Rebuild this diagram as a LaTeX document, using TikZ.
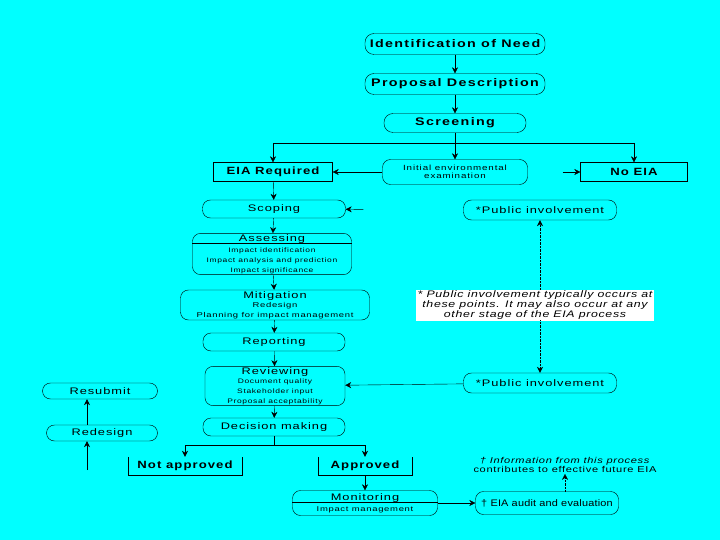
\documentclass[tikz,border=0pt]{standalone}
\usepackage{fontspec}
\setmainfont{Liberation Sans}
\usetikzlibrary{arrows.meta, positioning, calc}
\definecolor{eiabg}{RGB}{0,255,255}
\newfontfamily\widefont[FakeStretch=1.35, LetterSpace=10]{Liberation Sans}
\newfontfamily\titlefont[FakeStretch=1.3, LetterSpace=12]{Liberation Sans}
\newfontfamily\boxfont[FakeStretch=1.25, LetterSpace=10]{Liberation Sans}
\newfontfamily\ieefont[FakeStretch=1.3, LetterSpace=12]{Liberation Sans}
\newfontfamily\smallwide[FakeStretch=1.3, LetterSpace=10]{Liberation Sans}
\newfontfamily\subwide[FakeStretch=1.35, LetterSpace=10]{Liberation Sans}
\newfontfamily\notewide[FakeStretch=1.3, LetterSpace=7]{Liberation Sans}
\newfontfamily\infowide[FakeStretch=1.3, LetterSpace=8]{Liberation Sans}
\newfontfamily\auditwide[FakeStretch=1.15, LetterSpace=2]{Liberation Sans}
\newcommand\detailfont{\smallwide\fontsize{6.5}{7}\selectfont}
\newcommand\subfont{\subwide\fontsize{7}{7.5}\selectfont}
\tikzset{
  arr/.style={-{Stealth[length=6pt,width=6pt]}, thin},
  dotarr/.style={-{Stealth[length=6pt,width=6pt]}, densely dotted, thin},
  stage/.style={draw, thin, rounded corners=8pt, align=center, inner sep=1pt,
    font=\widefont\fontsize{9.5}{10}\selectfont},
  toptitle/.style={font=\titlefont\fontsize{11}{12}\selectfont\bfseries, rounded corners=9pt},
  boldbox/.style={draw, thin, align=center, inner sep=1pt,
    font=\boxfont\fontsize{10.5}{11}\selectfont\bfseries},
  openbox/.style={align=center, inner sep=1pt,
    font=\boxfont\fontsize{10.5}{11}\selectfont\bfseries},
  wd/.style={minimum width=#1},ht/.style={minimum height=#1},
}
\begin{document}
\begin{tikzpicture}[x=1pt,y=-1pt]
\fill[eiabg] (0,0) rectangle (720,540);
\useasboundingbox (0,0) rectangle (720,540);

% main line of stages
\node[stage, toptitle, wd=180, ht=21] (need) at (455,44) {Identification of Need};
\node[stage, toptitle, wd=180, ht=21] (prop) at (455,84) {Proposal Description};
\node[stage, toptitle, wd=142, ht=19] (screen) at (455,123) {Screening};

\node[boldbox, wd=119, ht=19] (eiareq) at (273,172) {EIA Required};
\node[stage, wd=145, ht=25, font=\ieefont\fontsize{7.5}{8}\selectfont] (iee) at (455,172) {Initial environmental\\examination};
\node[boldbox, wd=107, ht=19] (noeia) at (634,172) {No EIA};

\node[stage, wd=143, ht=18] (scope) at (274,209) {Scoping};
\node[stage, wd=153, ht=20] (pub1) at (540,210) {*Public involvement};

\node[stage, wd=159, ht=37] (assess) at (272,254) {Assessing\\[1pt]
  {\detailfont Impact identification}\\
  {\detailfont Impact analysis and prediction}\\
  {\detailfont Impact significance}};
\draw[thin] ([yshift=-10pt]assess.north west) -- ([yshift=-10pt]assess.north east);

\node[stage, wd=189, ht=30] (mitig) at (275,305) {Mitigation\\[-1pt]
  {\subfont Redesign}\\
  {\subfont Planning for impact management}};
\node[stage, wd=142, ht=18] (report) at (274,342) {Reporting};

\node[draw=white, fill=white, inner sep=1pt, minimum width=234, minimum height=26, align=center,
  font=\notewide\fontsize{9.5}{8.5}\selectfont\itshape] (note) at (535,305)
  {* Public involvement typically occurs at\\these points. It may also occur at any\\other stage of the EIA process};

\node[stage, wd=140, ht=36] (review) at (275,386) {Reviewing\\[-1pt]
  {\detailfont Document quality}\\
  {\detailfont Stakeholder input}\\
  {\detailfont Proposal acceptability}};
\node[stage, wd=153, ht=20] (pub2) at (540,383) {*Public involvement};

\node[stage, wd=142, ht=18] (decide) at (274,427) {Decision making};

\node[openbox, wd=114, ht=18] (notapp) at (185,466) {Not approved};
\draw[thin] (notapp.north west) -- (notapp.south west) -- (notapp.south east) -- (notapp.north east);
\node[openbox, wd=94, ht=18] (approved) at (365,466) {Approved};
\draw[thin] (approved.north west) -- (approved.south west) -- (approved.south east) -- (approved.north east);

\node[stage, wd=145, ht=25] (monit) at (365,503) {Monitoring\\[1pt]
  {\subfont Impact management}};
\draw[thin] ([yshift=-12pt]monit.north west) -- ([yshift=-12pt]monit.north east);
\node[stage, wd=143, ht=23, font=\auditwide\fontsize{9.5}{10}\selectfont] (audit) at (547,503) {\textdagger\ EIA audit and evaluation};
\node[align=center, inner sep=1pt, font=\infowide\fontsize{8.5}{9}\selectfont] (info) at (565,465)
  {\textit{\textdagger\ Information from this process}\\contributes to effective future EIA};

% left side
\node[stage, wd=115, ht=16] (resub) at (100,391) {Resubmit};
\node[stage, wd=111, ht=16] (redes) at (102,433) {Redesign};
\coordinate (redin) at (87,470);

% connectors
\draw[arr] (need) -- (prop);
\draw[arr] (prop) -- (screen);
\draw[thin] (screen.south) -- (455,143) coordinate (split);
\draw[thin] (eiareq.north |- split) -- (noeia.north |- split);
\draw[arr] (eiareq.north |- split) -- (eiareq);
\draw[arr] (split) -- (iee);
\draw[arr] (noeia.north |- split) -- (noeia);
\draw[arr] (iee) -- (eiareq);
\draw[arr, shorten <=35pt] (iee) -- (noeia);
\draw[arr] (eiareq) -- (scope);
\draw[arr, shorten <=100pt] (pub1) -- (scope);
\draw[arr] (scope) -- (assess);
\draw[arr] (assess) -- (mitig);
\draw[arr] (mitig) -- (report);
\draw[arr] (report) -- (review);
\draw[arr] (pub2) -- (review);
\draw[arr] (review) -- (decide);
\draw[dotarr] (note.north -| pub1) -- (pub1);
\draw[dotarr] (note.south -| pub2) -- (pub2);
\draw[thin] (decide.south) -- (274,445) coordinate (fork);
\draw[thin] (notapp.north |- fork) -- (approved.north |- fork);
\draw[arr] (notapp.north |- fork) -- (notapp);
\draw[arr] (approved.north |- fork) -- (approved);
\draw[arr] (approved) -- (monit);
\draw[arr] (monit) -- (audit);
\draw[dotarr] (audit.north -| info) -- (info);
\draw[arr, semithick] (redin) -- (redes.south -| redin);
\draw[arr, semithick] (redes.north -| redin) -- (resub.south -| redin);

\end{tikzpicture}
\end{document}
